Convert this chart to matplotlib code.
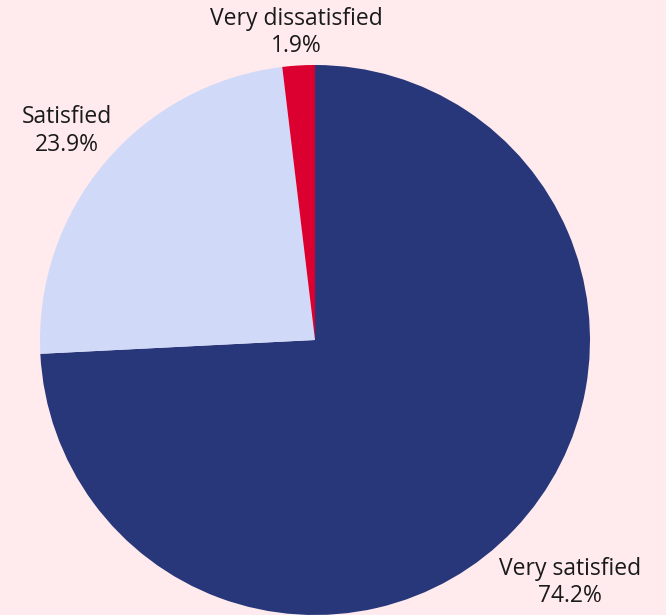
import numpy as np
import matplotlib
matplotlib.use("Agg")
import matplotlib.pyplot as plt

categories = ["Very satisfied", "Satisfied", "Very dissatisfied"]
values = [74.2, 23.9, 1.9]
colors = ["#27377A", "#D0DAF8", "#DC0030"]
label_dist = [1.28, 1.18, 1.12]

W, H = 666, 615
fig = plt.figure(figsize=(W / 100, H / 100), dpi=100)
fig.patch.set_facecolor("#FFEBEE")
ax = fig.add_axes([0, 0, 1, 1])
ax.set_facecolor("#FFEBEE")

cx, cy, R = 315, H - 340, 275
wedges, _ = ax.pie(values, colors=colors, startangle=90, counterclock=False,
                   center=(cx, cy), radius=R, frame=True,
                   wedgeprops=dict(linewidth=0))
ax.set_xlim(0, W)
ax.set_ylim(0, H)
ax.set_aspect("equal")
ax.axis("off")

for w, cat, v, d in zip(wedges, categories, values, label_dist):
    ang = np.deg2rad((w.theta1 + w.theta2) / 2)
    x = cx + d * R * np.cos(ang)
    y = cy + d * R * np.sin(ang)
    ax.text(x, y, f"{cat}\n{v:.1f}%", ha="center", va="center",
            fontsize=16.5, family=["Open Sans", "DejaVu Sans"], color="#1a1a1a",
            linespacing=1.2)

fig.savefig("out.png", dpi=100, facecolor=fig.get_facecolor())
